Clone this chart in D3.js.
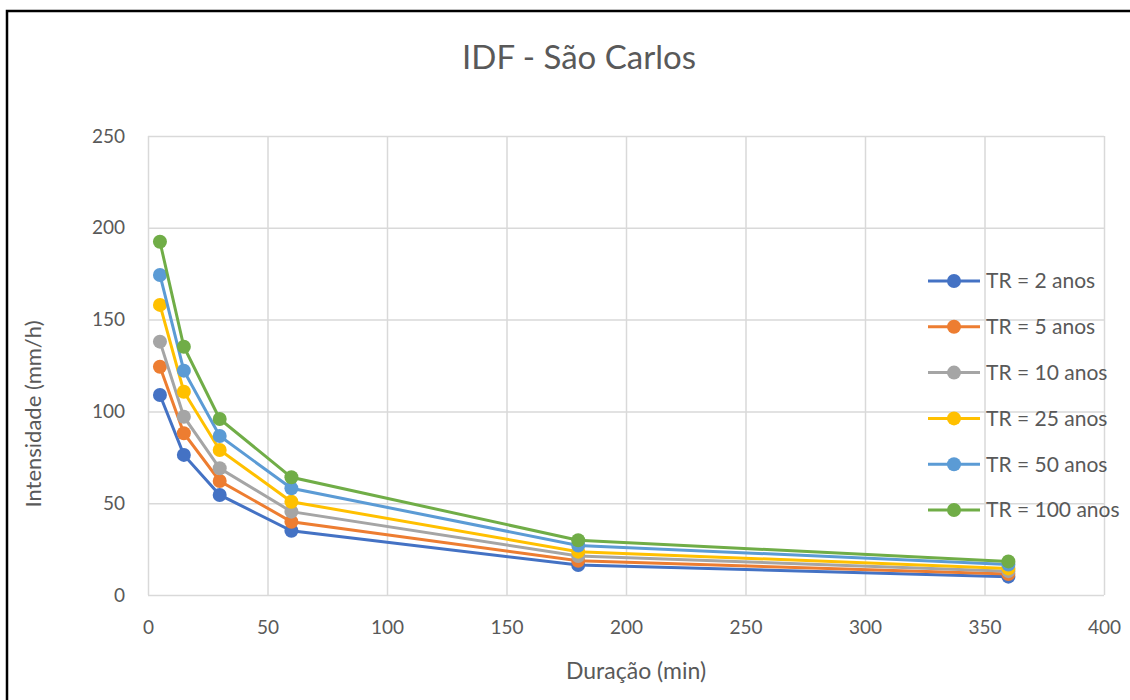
<!DOCTYPE html>
<html>
<head>
<meta charset="utf-8">
<script src="https://cdn.jsdelivr.net/npm/d3@7.9.0/dist/d3.min.js"></script>
<style>
  body { margin: 0; background: #fff; }
  svg { display: block; font-family: Lato, "Open Sans", sans-serif; }
</style>
</head>
<body>
<svg id="chart" width="1130" height="700"></svg>
<script>
// durations (min)
const durations = [5, 15, 30, 60, 180, 360];

// intensities (mm/h) per return period
const tr2 = [108.9, 76.3, 54.5, 35.0, 16.3, 10.0];
const tr5 = [124.3, 88.1, 62.1, 39.9, 18.6, 11.4];
const tr10 = [138.0, 97.1, 69.0, 45.4, 21.2, 13.0];
const tr25 = [158.0, 110.7, 79.0, 50.8, 23.6, 14.5];
const tr50 = [174.3, 122.2, 86.6, 58.1, 27.0, 16.6];
const tr100 = [192.4, 135.2, 95.9, 64.1, 29.8, 18.3];

const seriesNames = ['TR = 2 anos', 'TR = 5 anos', 'TR = 10 anos', 'TR = 25 anos', 'TR = 50 anos', 'TR = 100 anos'];
const seriesColors = ['#4472C4', '#ED7D31', '#A5A5A5', '#FFC000', '#5B9BD5', '#70AD47'];
const xTicks = [0, 50, 100, 150, 200, 250, 300, 350, 400];
const yTicks = [0, 50, 100, 150, 200, 250];

const allSeries = [tr2, tr5, tr10, tr25, tr50, tr100].map((vals, i) => ({
  name: seriesNames[i],
  color: seriesColors[i],
  points: vals.map((v, j) => ({ x: durations[j], y: v }))
}));

const svg = d3.select('#chart');
const margin = { left: 148, right: 26, top: 136, bottom: 105 };
const width = 1130 - margin.left - margin.right;
const height = 700 - margin.top - margin.bottom;

const x = d3.scaleLinear().domain([0, 400]).range([0, width]);
const y = d3.scaleLinear().domain([0, 250]).range([height, 0]);

// outer frame
svg.append('path')
  .attr('d', 'M7,700 V11 H1130')
  .attr('fill', 'none')
  .attr('stroke', '#000')
  .attr('stroke-width', 2.5);

svg.append('text')
  .attr('x', 579)
  .attr('y', 69)
  .attr('text-anchor', 'middle')
  .attr('font-size', 33)
  .attr('fill', '#595959')
  .text('IDF - São Carlos');

const g = svg.append('g').attr('transform', `translate(${margin.left},${margin.top})`);

// grid
g.append('g')
  .attr('transform', `translate(0,${height})`)
  .call(d3.axisBottom(x).tickValues(xTicks).tickSize(-height).tickFormat(''))
  .call(a => a.select('.domain').remove())
  .call(a => a.selectAll('line').attr('stroke', '#D9D9D9').attr('stroke-width', 1.5));

g.append('g')
  .call(d3.axisLeft(y).tickValues(yTicks).tickSize(-width).tickFormat(''))
  .call(a => a.select('.domain').remove())
  .call(a => a.selectAll('line').attr('stroke', '#D9D9D9').attr('stroke-width', 1.5));

// tick labels
g.append('g')
  .attr('transform', `translate(0,${height})`)
  .call(d3.axisBottom(x).tickValues(xTicks).tickSize(0).tickPadding(26))
  .call(a => a.select('.domain').remove())
  .call(a => a.selectAll('text').attr('font-size', 19).attr('fill', '#595959').attr('font-family', 'Lato, sans-serif'));

g.append('g')
  .call(d3.axisLeft(y).tickValues(yTicks).tickSize(0).tickPadding(23))
  .call(a => a.select('.domain').remove())
  .call(a => a.selectAll('text').attr('font-size', 19).attr('fill', '#595959').attr('font-family', 'Lato, sans-serif'));

// lines + markers
const line = d3.line().x(d => x(d.x)).y(d => y(d.y));

allSeries.forEach(s => {
  g.append('path')
    .datum(s.points)
    .attr('d', line)
    .attr('fill', 'none')
    .attr('stroke', s.color)
    .attr('stroke-width', 3);

  g.selectAll(null)
    .data(s.points)
    .join('circle')
    .attr('cx', d => x(d.x))
    .attr('cy', d => y(d.y))
    .attr('r', 7)
    .attr('fill', s.color);
});

// axis titles
svg.append('text')
  .attr('x', 636)
  .attr('y', 679)
  .attr('text-anchor', 'middle')
  .attr('font-size', 23)
  .attr('fill', '#595959')
  .text('Duração (min)');

svg.append('text')
  .attr('transform', 'translate(41,414) rotate(-90)')
  .attr('text-anchor', 'middle')
  .attr('font-size', 22)
  .attr('fill', '#595959')
  .text('Intensidade (mm/h)');

// legend
const legend = svg.append('g').attr('transform', 'translate(928,281)');
const rows = legend.selectAll('g')
  .data(allSeries)
  .join('g')
  .attr('transform', (d, i) => `translate(0,${i * 45.8})`);

rows.append('line')
  .attr('x1', 0).attr('x2', 52)
  .attr('stroke', d => d.color)
  .attr('stroke-width', 3);
rows.append('circle')
  .attr('cx', 26)
  .attr('r', 7)
  .attr('fill', d => d.color);
rows.append('text')
  .attr('x', 58)
  .attr('dy', '0.35em')
  .attr('font-size', 21)
  .attr('fill', '#595959')
  .text(d => d.name);
</script>
</body>
</html>
